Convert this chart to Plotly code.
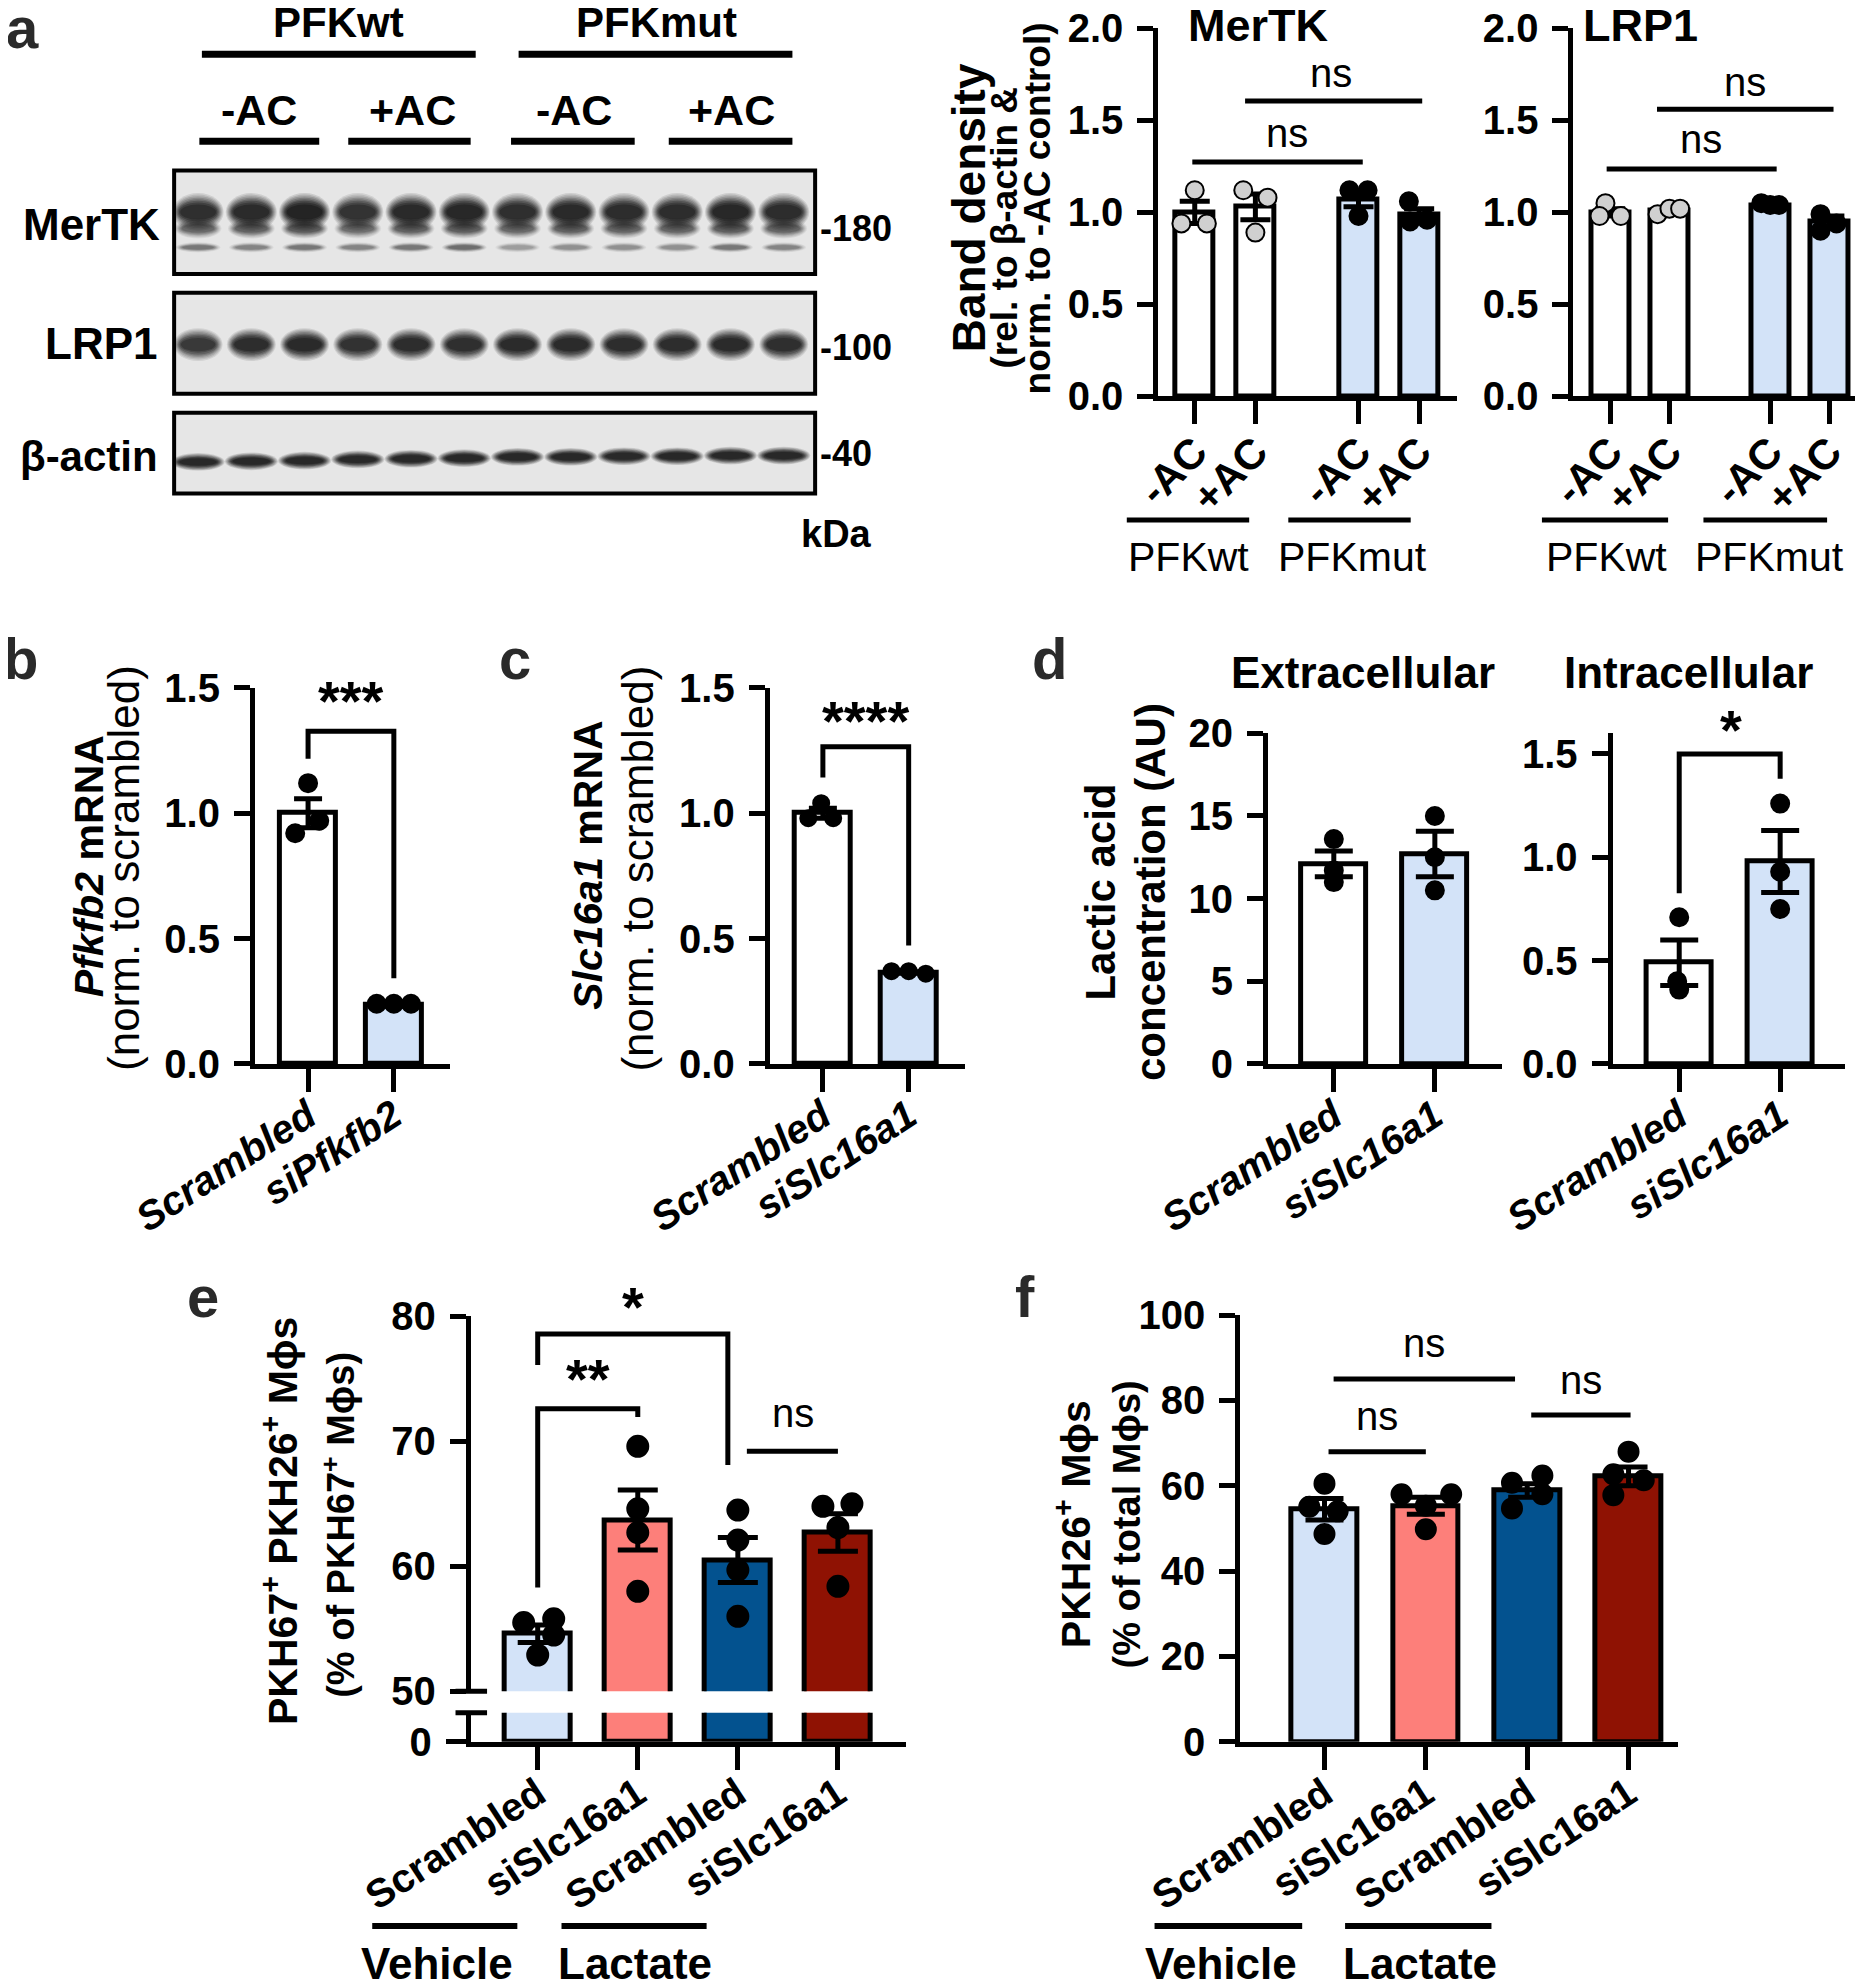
import plotly.graph_objects as go

FW, FH = 1862, 1971          # figure size (page body keeps an 8px margin)
RW, RH = 1482, 1568          # layout coordinates are given on a 1482x1568 basis
OFF = 8


def px(x):
    return (x * 1870 / RW - OFF) / FW


def py(y):
    return 1 - (y * 1979 / RH - OFF) / FH


ARIAL = "Liberation Sans, Arial, Helvetica, sans-serif"
LW = 5

# ---------------- data ----------------
# panel a, western blot (relative band darkness per lane)
blot_lanes = list(range(1, 13))
mertk_band = [0.85, 0.9, 1.0, 0.8, 0.92, 0.95, 0.85, 0.92, 0.88, 0.88, 0.95, 0.88]
mertk_minor = [0.35, 0.3, 0.35, 0.3, 0.35, 0.4, 0.2, 0.25, 0.25, 0.25, 0.35, 0.3]
lrp1_band = [0.75, 0.88, 0.92, 0.82, 0.88, 0.85, 0.9, 0.9, 0.88, 0.88, 0.9, 0.86]
actin_band = [0.95, 0.95, 0.95, 0.93, 0.95, 0.95, 0.95, 0.95, 0.93, 0.95, 0.95, 0.95]

# panel a, quantification
a_cats = ["-AC", "+AC", "-AC", "+AC"]
a_groups = ["PFKwt", "PFKmut"]
mertk_mean = [1.00, 1.03, 1.07, 0.99]
mertk_sem = [0.06, 0.07, 0.04, 0.03]
mertk_pts = [[1.12, 0.94, 0.94], [1.12, 1.08, 0.89], [1.12, 1.12, 0.98], [1.06, 0.95, 0.96]]
lrp1_mean = [1.00, 1.01, 1.04, 0.95]
lrp1_sem = [0.02, 0.01, 0.01, 0.03]
lrp1_pts = [[1.05, 0.98, 0.98], [0.99, 1.02, 1.02], [1.05, 1.04, 1.04], [0.99, 0.90, 0.94]]

# panel b
b_cats = ["Scrambled", "siPfkfb2"]
b_mean = [1.00, 0.235]
b_sem = [0.058, 0.004]
b_pts = [[1.12, 0.92, 0.97], [0.24, 0.24, 0.24]]

# panel c
c_cats = ["Scrambled", "siSlc16a1"]
c_mean = [1.00, 0.365]
c_sem = [0.02, 0.003]
c_pts = [[1.04, 0.98, 0.98], [0.37, 0.37, 0.36]]

# panel d
d_cats = ["Scrambled", "siSlc16a1"]
dext_mean = [12.1, 12.7]
dext_sem = [0.78, 1.37]
dext_pts = [[13.6, 11.7, 11.0], [15.0, 12.5, 10.5]]
dint_mean = [0.49, 0.98]
dint_sem = [0.11, 0.15]
dint_pts = [[0.71, 0.40, 0.36], [1.26, 0.93, 0.75]]

# panels e, f
ef_cats = ["Scrambled", "siSlc16a1", "Scrambled", "siSlc16a1"]
ef_groups = ["Vehicle", "Lactate"]
e_mean = [54.6, 63.7, 60.5, 62.7]
e_sem = [0.7, 2.4, 1.8, 1.5]
e_pts = [[55.5, 55.8, 54.5, 52.9], [69.6, 64.6, 62.7, 58.0],
         [64.5, 62.1, 59.7, 56.0], [64.8, 65.0, 63.1, 58.4]]
f_mean = [54.5, 55.3, 58.9, 62.2]
f_sem = [2.5, 2.0, 1.6, 2.2]
f_pts = [[60.5, 55.1, 54.0, 48.7], [58.0, 58.0, 55.3, 49.8],
         [60.7, 62.4, 54.7, 58.0], [68.0, 62.7, 61.3, 57.8]]

# ---------------- styles ----------------
LBLUE = "#d3e3f8"
SALMON = "#fd7f7a"
DBLUE = "#03528f"
DRED = "#8f1203"

fig = go.Figure()
shapes = []
annos = []


def T(text, x, y, size, family=ARIAL, angle=0, xa="center", ya="middle", color="black"):
    annos.append(dict(text=text, x=px(x), y=py(y), xref="paper", yref="paper", showarrow=False,
                      font=dict(family=family, size=size, color=color), textangle=angle,
                      xanchor=xa, yanchor=ya))


def hline(x0, x1, y, w=6):
    shapes.append(dict(type="line", xref="paper", yref="paper", x0=px(x0), x1=px(x1),
                       y0=py(y), y1=py(y), line=dict(color="black", width=w)))


layout_axes = {}
TICKFONT = dict(family=ARIAL, size=40, color="black", weight="bold")


def axes(i, xdom, ydom, xr, yr, xtickvals=None, xticktext=None, ytickvals=None, yfmt=None,
         xangle=0, xfont=None, xticklen=23, yticklen=16, xvisible=True, yvisible=True,
         xstandoff=-15, ystandoff=6):
    xa = dict(domain=[px(xdom[0]), px(xdom[1])], range=xr, anchor=f"y{i}", showgrid=False,
              zeroline=False, showline=True, linecolor="black", linewidth=LW, ticks="outside",
              tickwidth=LW, ticklen=xticklen, tickcolor="black", visible=xvisible, fixedrange=True,
              automargin=False, ticklabeloverflow="allow")
    if xtickvals is not None:
        xa.update(tickmode="array", tickvals=xtickvals, ticktext=xticktext, tickangle=xangle,
                  tickfont=xfont, ticklabelstandoff=xstandoff)
    else:
        xa.update(showticklabels=False, ticks="")
    ya = dict(domain=[py(ydom[1]), py(ydom[0])], range=yr, anchor=f"x{i}", showgrid=False,
              zeroline=False, showline=True, linecolor="black", linewidth=LW, ticks="outside",
              tickwidth=LW, ticklen=yticklen, tickcolor="black", visible=yvisible, fixedrange=True,
              tickfont=TICKFONT, ticklabelstandoff=ystandoff, automargin=False,
              ticklabeloverflow="allow")
    if ytickvals is not None:
        ya.update(tickmode="array", tickvals=ytickvals)
    if yfmt:
        ya.update(tickformat=yfmt)
    layout_axes["xaxis" + ("" if i == 1 else str(i))] = xa
    layout_axes["yaxis" + ("" if i == 1 else str(i))] = ya


def bars(i, pos, mean, sem, pts, jit, colors, ptfill, ptline, msize, capw, bw, show_err=True):
    err = dict(type="data", array=sem, color="black", thickness=LW, width=capw, visible=show_err)
    fig.add_trace(go.Bar(x=pos, y=mean, width=bw, marker=dict(color=colors, line=dict(color="black", width=LW)),
                         error_y=err, xaxis=f"x{i}", yaxis=f"y{i}", showlegend=False))
    if pts is None:
        return
    for k in range(len(pos)):
        fig.add_trace(go.Scatter(x=[pos[k] + j for j in jit[k]], y=pts[k], mode="markers",
                                 marker=dict(size=msize, color=ptfill[k], line=dict(color=ptline, width=2)),
                                 xaxis=f"x{i}", yaxis=f"y{i}", showlegend=False, cliponaxis=False))


def bracket(i, x0, x1, yl, yt, yr, w=5):
    shapes.append(dict(type="path", xref=f"x{i}", yref=f"y{i}",
                       path=f"M {x0},{yl} L {x0},{yt} L {x1},{yt} L {x1},{yr}",
                       line=dict(color="black", width=w)))


def sig(i, text, x, y, size=40, family=ARIAL):
    annos.append(dict(text=text, x=x, y=y, xref=f"x{i}", yref=f"y{i}", showarrow=False,
                      font=dict(family=family, size=size, color="black")))


# ---------------- panel a: blot ----------------
axes(1, (138, 646), (135, 391), [0.55, 12.59], [391, 135], xvisible=False, yvisible=False)
fig.add_trace(go.Scatter(x=[1], y=[200], mode="markers", marker=dict(opacity=0), xaxis="x", yaxis="y",
                         showlegend=False, hoverinfo="skip"))
for (y0, y1) in [(135, 217), (232, 312), (327, 391)]:
    shapes.append(dict(type="rect", xref="paper", yref="paper", x0=px(138), x1=px(646),
                       y0=py(y1), y1=py(y0),
                       fillcolor="#e6e6e6", line=dict(color="black", width=4), layer="below"))

layers = [(1.0, 0.12), (0.92, 0.14), (0.84, 0.16), (0.76, 0.2), (0.68, 0.24), (0.6, 0.3),
          (0.5, 0.35), (0.4, 0.4)]


def band(lane, yc, hw, hh, inten):
    for s, a in layers:
        shapes.append(dict(type="circle", xref="x", yref="y", x0=lane - hw * (0.5 + 0.5 * s),
                           x1=lane + hw * (0.5 + 0.5 * s), y0=yc - hh * s, y1=yc + hh * s,
                           fillcolor=f"rgba(15,15,15,{a * inten:.3f})", line=dict(width=0)))


actin_y = [366, 365.5, 365, 364, 363.5, 363, 362, 362, 361.5, 361.5, 361, 361]
for k, lane in enumerate(blot_lanes):
    band(lane, 168, 0.48, 15, mertk_band[k])
    band(lane, 181, 0.44, 8, 0.5 * mertk_band[k])
    band(lane, 196, 0.42, 4, mertk_minor[k])
    band(lane, 273, 0.46, 13, lrp1_band[k])
    band(lane, actin_y[k], 0.5, 7, actin_band[k])

T("<b>PFKwt</b>", 268, 18, 42)
T("<b>PFKmut</b>", 520, 18, 42)
hline(160, 377, 43, 7)
hline(411, 628, 43, 7)
for txt, x in zip(a_cats, [205, 327, 455, 580]):
    T(f"<b>{txt}</b>", x, 87, 43)
for x0, x1 in [(158, 253), (276, 373), (405, 503), (530, 628)]:
    hline(x0, x1, 112, 7)
T("<b>MerTK</b>", 128, 178, 44, xa="right")
T("<b>LRP1</b>", 126, 272, 44, xa="right")
T("<b>β-actin</b>", 127, 362, 42, xa="right")
T("<b>-180</b>", 648, 181, 36, xa="left")
T("<b>-100</b>", 648, 275, 36, xa="left")
T("<b>-40</b>", 648, 359, 36, xa="left")
T("<b>kDa</b>", 663, 423, 38)

# ---------------- panel a: MerTK / LRP1 charts ----------------
a_pos = [0, 1, 2.7, 3.7]
a_colors = ["white", "white", LBLUE, LBLUE]
a_fill = ["#d0d0d0", "#d0d0d0", "black", "black"]
atick = [f"<b>{c}</b>" for c in a_cats]
afont = dict(family=ARIAL, size=42, color="black")
axes(2, (918, 1155), (22.5, 314), [-0.6, 4.33], [0, 2.0], a_pos, atick, [0, 0.5, 1, 1.5, 2], ".1f",
     xangle=-45, xfont=afont, xstandoff=-14)
mertk_jit = [[0, -0.22, 0.2], [-0.2, 0.2, 0], [-0.15, 0.15, 0], [-0.17, -0.15, 0.13]]
bars(2, a_pos, mertk_mean, mertk_sem, mertk_pts, mertk_jit, a_colors, a_fill, "black", 18, 15, 0.625)
axes(3, (1247, 1470), (22.5, 314), [-0.62, 4.13], [0, 2.0], a_pos, atick, [0, 0.5, 1, 1.5, 2], ".1f",
     xangle=-45, xfont=afont, xstandoff=-14)
lrp1_jit = [[-0.08, -0.18, 0.18], [-0.2, 0, 0.18], [-0.15, 0, 0.15], [-0.15, -0.15, 0.12]]
bars(3, a_pos, lrp1_mean, lrp1_sem, lrp1_pts, lrp1_jit, a_colors, a_fill, "black", 18, 15, 0.64)

bracket(2, -0.04, 2.77, 1.274, 1.274, 1.274)
sig(2, "ns", 1.52, 1.43)
bracket(2, 0.83, 3.75, 1.605, 1.605, 1.605)
sig(2, "ns", 2.25, 1.76)
bracket(3, -0.06, 2.81, 1.236, 1.236, 1.236)
sig(3, "ns", 1.53, 1.40)
bracket(3, 0.79, 3.77, 1.56, 1.56, 1.56)
sig(3, "ns", 2.28, 1.71)

T("<b>MerTK</b>", 997, 20, 45)
T("<b>LRP1</b>", 1300, 20, 45)
for x0, x1 in [(893, 990), (1021, 1118), (1222, 1322), (1350, 1448)]:
    hline(x0, x1, 412, 5)
for txt, x in [(a_groups[0], 942), (a_groups[1], 1072), (a_groups[0], 1273), (a_groups[1], 1402)]:
    T(txt, x, 441, 41)
T("<b>Band density</b>", 768, 165, 46, angle=-90)
T("<b>(rel. to β-actin &amp;</b>", 796, 180, 37, angle=-90)
T("<b>norm. to -AC control)</b>", 822, 165, 37, angle=-90)

# ---------------- panel b ----------------
ifont = dict(family=ARIAL, size=40, color="black")
two = [0, 1]
axes(4, (202, 357), (545, 843), [-0.62, 1.66], [0, 1.5], two,
     [f"<b><i>{c}</i></b>" for c in b_cats], [0, 0.5, 1, 1.5], ".1f", xangle=-33, xfont=ifont)
bars(4, two, b_mean, b_sem, b_pts, [[0, -0.15, 0.13], [-0.2, 0, 0.2]], ["white", LBLUE],
     ["black", "black"], "black", 18, 14, 0.65)
bracket(4, 0, 1, 1.217, 1.327, 0.342)
sig(4, "<b>***</b>", 0.5, 1.45, 56)
T("<b><i>Pfkfb2</i> mRNA</b>", 70, 686, 41, angle=-90)
T("(norm. to scrambled)", 98, 688, 44, angle=-90)

# ---------------- panel c ----------------
axes(5, (610, 765), (545, 843), [-0.62, 1.66], [0, 1.5], two,
     [f"<b><i>{c}</i></b>" for c in c_cats], [0, 0.5, 1, 1.5], ".1f", xangle=-33, xfont=ifont)
bars(5, two, c_mean, c_sem, c_pts, [[-0.02, -0.17, 0.12], [-0.2, 0, 0.2]], ["white", LBLUE],
     ["black", "black"], "black", 16, 14, 0.65)
bracket(5, 0, 1, 1.142, 1.265, 0.472)
sig(5, "<b>****</b>", 0.5, 1.37, 56)
T("<b><i>Slc16a1</i> mRNA</b>", 466, 686, 41, angle=-90)
T("(norm. to scrambled)", 505, 688, 44, angle=-90)

# ---------------- panel d ----------------
axes(6, (1005, 1190), (581, 843), [-0.65, 1.66], [0, 20], two,
     [f"<b><i>{c}</i></b>" for c in d_cats], [0, 5, 10, 15, 20], None, xangle=-33, xfont=ifont)
bars(6, two, dext_mean, dext_sem, dext_pts, [[0, 0, 0], [0, 0, 0]], ["white", LBLUE],
     ["black", "black"], "black", 18, 19, 0.64)
axes(7, (1278, 1462), (581, 843), [-0.66, 1.64], [0, 1.6], two,
     [f"<b><i>{c}</i></b>" for c in d_cats], [0, 0.5, 1, 1.5], ".1f", xangle=-33, xfont=ifont)
bars(7, two, dint_mean, dint_sem, dint_pts, [[0, -0.02, 0], [0, 0, 0]], ["white", LBLUE],
     ["black", "black"], "black", 18, 19, 0.64)
bracket(7, 0, 1, 0.826, 1.5, 1.38)
T("<b>*</b>", 1372, 578, 56)
T("<b>Extracellular</b>", 1080, 533, 44)
T("<b>Intracellular</b>", 1338, 533, 44)
T("<b>Lactic acid</b>", 872, 707, 42, angle=-90)
T("<b>concentration (AU)</b>", 912, 707, 42, angle=-90)

# ---------------- panel e ----------------
four = [0, 1, 2, 3]
efcolors = [LBLUE, SALMON, DBLUE, DRED]
bfont = dict(family=ARIAL, size=40, color="black")
axes(8, (373, 718), (1043, 1340), [-0.67, 3.68], [50, 80], None, None, [50, 60, 70, 80], None,
     xvisible=False)
axes(9, (373, 718), (1357, 1380), [-0.67, 3.68], [0, 2.3], four, [f"<b>{c}</b>" for c in ef_cats],
     [0], None, xangle=-33, xfont=bfont, yticklen=20)
bars(8, four, e_mean, e_sem, e_pts,
     [[-0.14, 0.16, 0.16, 0], [0, 0, 0, 0], [0, 0, 0, 0], [-0.15, 0.14, 0, 0]],
     efcolors, ["black"] * 4, "black", 21, 20, 0.66)
bars(9, four, e_mean, e_sem, None, None, efcolors, None, None, 0, 0, 0.66, show_err=False)
for yy in (1340, 1357):
    shapes.append(dict(type="line", xref="paper", yref="paper", x0=px(361), x1=px(386),
                       y0=py(yy), y1=py(yy), line=dict(color="black", width=LW)))
bracket(8, 0, 1, 58.3, 72.6, 71.95)
sig(8, "<b>**</b>", 0.5, 75.0, 56)
bracket(8, 0, 1.9, 76.1, 78.6, 68.1)
T("<b>*</b>", 502, 1035, 56)
bracket(8, 2.09, 3.0, 69.2, 69.2, 69.2)
sig(8, "ns", 2.55, 72.3)
T("<b>PKH67<sup>+</sup> PKH26<sup>+</sup> Mϕs</b>", 222, 1205, 41, angle=-90)
T("<b>(% of PKH67<sup>+</sup> Mϕs)</b>", 268, 1208, 38, angle=-90)
hline(295, 410, 1526, 6)
hline(445, 560, 1526, 6)
T("<b>Vehicle</b>", 346, 1556, 44)
T("<b>Lactate</b>", 503, 1556, 44)

# ---------------- panel f ----------------
axes(10, (983, 1330), (1042, 1380), [-0.83, 3.49], [0, 100], four, [f"<b>{c}</b>" for c in ef_cats],
     [0, 20, 40, 60, 80, 100], None, xangle=-33, xfont=bfont)
bars(10, four, f_mean, f_sem, f_pts,
     [[0, -0.15, 0.13, 0], [-0.24, 0.25, 0, 0], [-0.15, 0.15, -0.15, 0.15], [0, -0.15, 0.15, -0.15]],
     efcolors, ["black"] * 4, "black", 20, 19, 0.65)
bracket(10, 0.04, 1.0, 68.0, 68.0, 68.0)
sig(10, "ns", 0.52, 76.3)
bracket(10, 0.09, 1.88, 85.0, 85.0, 85.0)
sig(10, "ns", 0.98, 93.5)
bracket(10, 2.04, 3.02, 76.6, 76.6, 76.6)
sig(10, "ns", 2.53, 84.7)
T("<b>PKH26<sup>+</sup> Mϕs</b>", 850, 1208, 41, angle=-90)
T("<b>(% of total Mϕs)</b>", 893, 1208, 38, angle=-90)
hline(915, 1032, 1526, 6)
hline(1066, 1182, 1526, 6)
T("<b>Vehicle</b>", 968, 1556, 44)
T("<b>Lactate</b>", 1125, 1556, 44)

# ---------------- panel letters ----------------
for L, x, y in [("a", 18, 22), ("b", 16, 522), ("c", 408, 522), ("d", 832, 522), ("e", 161, 1027),
                ("f", 812, 1027)]:
    T(f"<b>{L}</b>", x, y, 58, color="#2a2a2a")

fig.update_layout(width=FW, height=FH, margin=dict(l=0, r=0, t=0, b=0, autoexpand=False),
                  plot_bgcolor="white", paper_bgcolor="white", showlegend=False, bargap=0,
                  shapes=shapes, annotations=annos, **layout_axes)
fig.write_html("out.html")
